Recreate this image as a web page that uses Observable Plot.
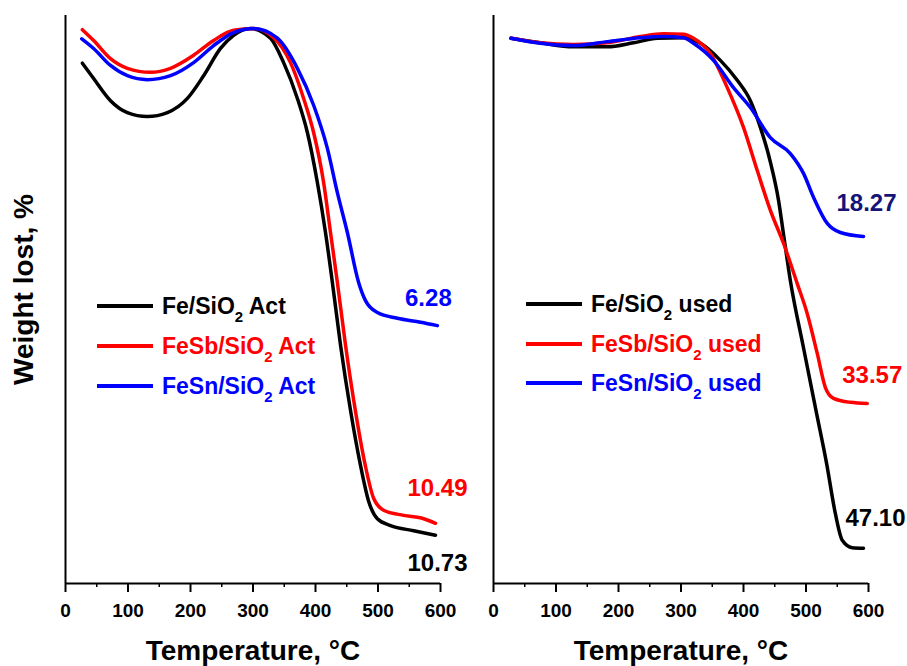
<!DOCTYPE html>
<html>
<head>
<meta charset="utf-8">
<script src="https://cdn.jsdelivr.net/npm/d3@7"></script>
<script src="https://cdn.jsdelivr.net/npm/@observablehq/plot@0.6"></script>
<style>
  html, body { margin: 0; padding: 0; background: #fff; }
  #chart { position: relative; width: 907px; height: 666px; font-family: 'Liberation Sans', Arial, sans-serif; overflow: hidden; }
  #chart svg { position: absolute; top: 0; }
  .legend-row { position: absolute; display: flex; align-items: center; height: 22px; line-height: 22px; font-size: 23px; font-weight: bold; white-space: nowrap; }
  .legend-row .swatch { width: 56px; height: 4px; margin-right: 9px; }
  .legend-row sub { font-size: 15px; line-height: 0; vertical-align: -8px; }
</style>
</head>
<body>
<div id="chart"></div>
<script>
// ---------- data (temperature °C, relative weight) ----------
const tickValues = [0, 100, 200, 300, 400, 500, 600];
const minorTicks = [50, 150, 250, 350, 450, 550];

const seriesColors = ["#000000", "#ff0000", "#0000ff"];
const labelColorsAct = ["#000000", "#ff0000", "#0000ff"];
const labelColorsUsed = ["#000000", "#ff0000", "#141478"];

const actNames = ["Fe/SiO₂ Act", "FeSb/SiO₂ Act", "FeSn/SiO₂ Act"];
const usedNames = ["Fe/SiO₂ used", "FeSb/SiO₂ used", "FeSn/SiO₂ used"];
const actLabels = ["10.73", "10.49", "6.28"];
const usedLabels = ["47.10", "33.57", "18.27"];

// Activated catalysts
const actFeT = [27,45,72,99,131,163,195,221,248,269,296,328,349,371,387,403,416,427,440,456,472,485,499,520,557,592];
const actFeW = [91.6,88.9,85.0,82.9,82.2,82.9,85.4,89.4,94.2,96.5,97.7,96.0,91.7,85.4,79.4,70.6,61.8,53.0,42.0,30.5,20.8,14.5,11.4,10.2,9.3,8.5];
const actFeSbT = [27,45,72,99,136,168,205,237,269,301,333,360,381,397,413,424,435,448,464,480,493,509,541,573,592];
const actFeSbW = [97.5,95.6,92.4,90.7,90.0,90.7,93.0,95.6,97.4,97.7,96.1,91.7,85.4,79.4,70.6,61.8,53.0,42.0,30.3,20.6,15.0,12.9,12.0,11.4,10.6];
const actFeSnT = [26,45,72,99,131,168,205,237,269,301,339,371,397,419,435,451,469,480,499,531,568,595];
const actFeSnW = [95.9,94.2,91.2,89.4,88.7,89.4,91.7,94.7,97.0,97.7,96.0,90.7,84.2,76.6,68.8,61.8,53.0,49.8,47.7,46.7,46.0,45.4];

// Used catalysts
const usedFeT = [28,75,128,182,224,262,304,331,363,390,411,427,443,456,464,475,496,517,533,547,558,574,592];
const usedFeW = [96.0,95.2,94.5,94.5,95.2,96.0,96.1,95.1,92.1,88.6,85.0,80.3,74.2,67.5,61.5,53.3,41.5,29.9,21.1,12.3,7.6,6.3,6.2];
const usedFeSbT = [28,75,128,182,235,272,304,320,347,374,400,422,443,464,486,502,518,531,544,571,598];
const usedFeSbW = [96.0,95.2,94.9,95.2,96.3,96.8,96.7,96.0,93.3,87.3,80.3,72.7,65.7,59.9,52.8,47.5,40.5,34.5,32.6,31.9,31.7];
const usedFeSnT = [28,75,128,182,235,272,304,320,352,384,411,443,475,496,512,534,555,592];
const usedFeSnW = [96.0,95.1,94.7,95.4,96.1,96.3,96.1,95.1,92.1,87.3,83.8,78.5,75.7,72.2,68.0,63.4,61.8,61.1];

// ---------- build ----------
const toPts = (T, W) => T.map((t, i) => ({t, w: W[i]}));
const fontFamily = "'Liberation Sans', Arial, sans-serif";

function panel({series, labels, labelColors, offsets, width, marginLeft, marginRight, yLabel}) {
  const marks = [];
  series.forEach((pts, i) => {
    marks.push(Plot.line(pts, {x: "t", y: "w", stroke: seriesColors[i], strokeWidth: 3.5, curve: "monotone-x"}));
  });
  series.forEach((pts, i) => {
    const last = pts[pts.length - 1];
    marks.push(Plot.text([last], {x: "t", y: "w", text: () => labels[i], fill: labelColors[i],
      dx: offsets[i][0], dy: offsets[i][1], fontSize: 24, fontWeight: "bold", textAnchor: "middle", lineAnchor: "middle"}));
  });
  marks.push(Plot.ruleX([0], {strokeWidth: 2}));
  marks.push(Plot.ruleY([0], {strokeWidth: 2}));
  marks.push(Plot.axisX(tickValues, {tickSize: 9, tickPadding: 11, strokeWidth: 2, fontSize: 19, fontWeight: "bold", label: null, fill: "#000"}));
  marks.push(Plot.axisX(minorTicks, {tickSize: 4, strokeWidth: 1.5, tickFormat: () => "", label: null}));
  marks.push(Plot.text(["Temperature, °C"], {text: d => d, frameAnchor: "bottom", dy: 68, fontSize: 28, fontWeight: "bold", textAnchor: "middle", lineAnchor: "middle"}));
  if (yLabel) {
    marks.push(Plot.text([yLabel], {text: d => d, frameAnchor: "left", rotate: -90, dx: -41, dy: -10, fontSize: 28, fontWeight: "bold", textAnchor: "middle", lineAnchor: "middle"}));
  }
  return Plot.plot({
    width, height: 666,
    marginTop: 15, marginBottom: 83, marginLeft, marginRight,
    x: {domain: [0, 600]},
    y: {domain: [0, 100], axis: null},
    style: {fontFamily, background: "transparent", overflow: "visible", color: "#000"},
    marks
  });
}

const left = panel({
  series: [toPts(actFeT, actFeW), toPts(actFeSbT, actFeSbW), toPts(actFeSnT, actFeSnW)],
  labels: actLabels, labelColors: labelColorsAct,
  offsets: [[2, 28], [2, -35], [-9, -27]],
  width: 470, marginLeft: 65, marginRight: 30, yLabel: "Weight lost, %"
});
const right = panel({
  series: [toPts(usedFeT, usedFeW), toPts(usedFeSbT, usedFeSbW), toPts(usedFeSnT, usedFeSnW)],
  labels: usedLabels, labelColors: labelColorsUsed,
  offsets: [[12, -30], [5, -28], [3, -33]],
  width: 437, marginLeft: 23, marginRight: 39
});
left.style.left = "0px";
right.style.left = "470px";

const chart = document.getElementById("chart");
chart.appendChild(left);
chart.appendChild(right);

function legend(names, x0, y0, step) {
  names.forEach((name, i) => {
    const row = document.createElement("div");
    row.className = "legend-row";
    row.style.left = x0 + "px";
    row.style.top = (y0 + i * step - 11) + "px";
    row.style.color = seriesColors[i];
    const sw = document.createElement("div");
    sw.className = "swatch";
    sw.style.background = seriesColors[i];
    const txt = document.createElement("span");
    txt.innerHTML = name.replace("₂", "<sub>2</sub>");
    row.appendChild(sw);
    row.appendChild(txt);
    chart.appendChild(row);
  });
}
legend(actNames, 97, 306, 40);
legend(usedNames, 526, 304, 39.5);
</script>
</body>
</html>
